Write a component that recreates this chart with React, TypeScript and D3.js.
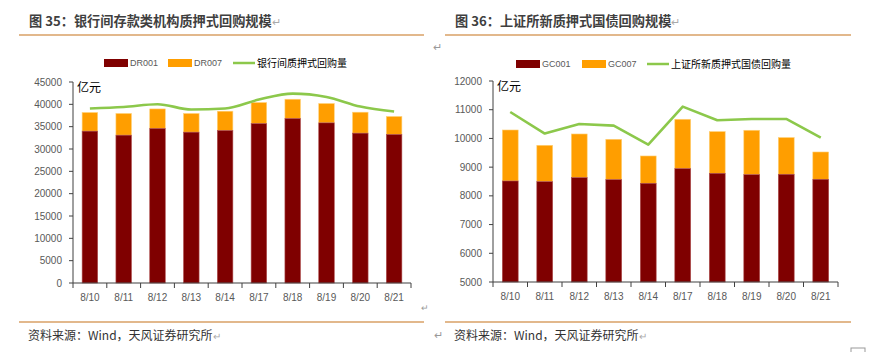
import React from "react";
import * as d3 from "d3";

const dates = ["8/10", "8/11", "8/12", "8/13", "8/14", "8/17", "8/18", "8/19", "8/20", "8/21"];

const dr001 = [34000, 33100, 34600, 33770, 34150, 35700, 36830, 35850, 33550, 33260];
const drTotal = [38170, 37950, 38970, 37950, 38460, 40400, 41140, 40180, 38240, 37280];
const drLine = [39060, 39400, 40020, 38840, 39060, 41070, 42400, 41650, 39500, 38390];

const gc001 = [8518, 8497, 8636, 8566, 8438, 8950, 8786, 8740, 8752, 8577];
const gcTotal = [10294, 9761, 10155, 9970, 9389, 10667, 10238, 10284, 10030, 9528];
const gcLine = [10920, 10170, 10503, 10445, 9785, 11109, 10632, 10678, 10678, 10030];

const leftTicks = [0, 5000, 10000, 15000, 20000, 25000, 30000, 35000, 40000, 45000];
const rightTicks = [5000, 6000, 7000, 8000, 9000, 10000, 11000, 12000];

const DARK = "#7F0000";
const ORANGE = "#FF9E00";
const GREEN = "#8CC84B";
const AXIS = "#404040";
const TICKTXT = "#595959";
const RULE = "#D9A066";

type PanelProps = {
  x0: number;
  x1: number;
  yTop: number;
  yBottom: number;
  domain: [number, number];
  ticks: number[];
  base: number[];
  total: number[];
  line: number[];
  smooth: boolean;
  legendNames: [string, string, string];
  legendX: [number, number, number];
  legendY: number;
};

function Panel(p: PanelProps) {
  const x = d3.scaleBand<string>().domain(dates).range([p.x0, p.x1]).paddingInner(0.54).paddingOuter(0.27);
  const y = d3.scaleLinear().domain(p.domain).range([p.yBottom, p.yTop]);
  const step = (p.x1 - p.x0) / dates.length;
  const lineGen = d3
    .line<number>()
    .x((_, i) => (x(dates[i]) as number) + x.bandwidth() / 2)
    .y((d) => y(d))
    .curve(p.smooth ? d3.curveMonotoneX : d3.curveLinear);
  const bw = x.bandwidth();
  return (
    <g>
      {dates.map((d, i) => (
        <g key={d}>
          <rect x={x(d)} y={y(p.total[i])} width={bw} height={y(p.base[i]) - y(p.total[i])} fill={ORANGE} stroke="#FFD27A" strokeWidth={0.6} />
          <rect x={x(d)} y={y(p.base[i])} width={bw} height={y(p.domain[0]) - y(p.base[i])} fill={DARK} stroke="#B05050" strokeWidth={0.6} />
        </g>
      ))}
      <path d={lineGen(p.line) || ""} fill="none" stroke={GREEN} strokeWidth={2.6} strokeLinejoin="round" />
      <line x1={p.x0} x2={p.x0} y1={p.yTop} y2={p.yBottom} stroke={AXIS} strokeWidth={1} />
      {p.ticks.map((t) => (
        <g key={t}>
          <line x1={p.x0 - 4} x2={p.x0} y1={y(t)} y2={y(t)} stroke={AXIS} />
          <text x={p.x0 - 11} y={y(t)} dy="0.35em" textAnchor="end" fontSize={10} fill={TICKTXT} fontFamily="Liberation Sans, Arial, sans-serif">
            {t}
          </text>
        </g>
      ))}
      <line x1={p.x0} x2={p.x1} y1={p.yBottom} y2={p.yBottom} stroke={AXIS} strokeWidth={1.2} />
      {d3.range(dates.length + 1).map((i) => (
        <line key={i} x1={p.x0 + i * step} x2={p.x0 + i * step} y1={p.yBottom} y2={p.yBottom + 5} stroke={AXIS} />
      ))}
      {dates.map((d) => (
        <text key={d} x={(x(d) as number) + bw / 2} y={p.yBottom + 14} dy="0.35em" textAnchor="middle" fontSize={10} fill={TICKTXT} fontFamily="Liberation Sans Narrow, Liberation Sans, Arial, sans-serif">
          {d}
        </text>
      ))}
      <text x={p.x0 + 4} y={p.yTop + 6} dy="0.35em" fontSize={12} fill="#000" fontFamily="Noto Sans CJK SC, sans-serif">
        亿元
      </text>
      <rect x={p.legendX[0]} y={p.legendY - 4} width={24} height={8} fill={DARK} />
      <text x={p.legendX[0] + 26} y={p.legendY} dy="0.35em" fontSize={9} fill={TICKTXT} fontFamily="Liberation Sans, Arial, sans-serif">
        {p.legendNames[0]}
      </text>
      <rect x={p.legendX[1]} y={p.legendY - 4} width={24} height={8} fill={ORANGE} />
      <text x={p.legendX[1] + 26} y={p.legendY} dy="0.35em" fontSize={9} fill={TICKTXT} fontFamily="Liberation Sans, Arial, sans-serif">
        {p.legendNames[1]}
      </text>
      <line x1={p.legendX[2]} x2={p.legendX[2] + 22} y1={p.legendY} y2={p.legendY} stroke={GREEN} strokeWidth={2.5} />
      <text x={p.legendX[2] + 24} y={p.legendY} dy="0.35em" fontSize={10} fill="#000" fontFamily="Noto Sans CJK SC, sans-serif">
        {p.legendNames[2]}
      </text>
    </g>
  );
}

export default function App() {
  const cjk = "Noto Sans CJK SC, sans-serif";
  return (
    <svg width={888} height={352} style={{ position: "absolute", left: 0, top: 0, background: "#fff" }}>
      <rect width={888} height={352} fill="#fff" />
      <text x={29} y={21} dy="0.35em" fontSize={13.2} fontWeight="bold" fill="#3F3F3F" fontFamily={cjk}>
        图 35：银行间存款类机构质押式回购规模<tspan fill="#AAA" fontWeight="normal" fontSize={11}>↵</tspan>
      </text>
      <text x={455} y={21} dy="0.35em" fontSize={13.2} fontWeight="bold" fill="#3F3F3F" fontFamily={cjk}>
        图 36：上证所新质押式国债回购规模<tspan fill="#AAA" fontWeight="normal" fontSize={11}>↵</tspan>
      </text>
      <line x1={19} x2={424} y1={35} y2={35} stroke={RULE} strokeWidth={1.3} />
      <line x1={445} x2={851} y1={35} y2={35} stroke={RULE} strokeWidth={1.3} />
      <text x={433} y={47} dy="0.35em" fontSize={11} fill="#999" fontFamily={cjk}>↵</text>

      <Panel
        x0={73}
        x1={411}
        yTop={82}
        yBottom={283}
        domain={[0, 45000]}
        ticks={leftTicks}
        base={dr001}
        total={drTotal}
        line={drLine}
        smooth={true}
        legendNames={["DR001", "DR007", "银行间质押式回购量"]}
        legendX={[104, 168, 233]}
        legendY={63}
      />
      <Panel
        x0={493}
        x1={838}
        yTop={81}
        yBottom={282}
        domain={[5000, 12000]}
        ticks={rightTicks}
        base={gc001}
        total={gcTotal}
        line={gcLine}
        smooth={false}
        legendNames={["GC001", "GC007", "上证所新质押式国债回购量"]}
        legendX={[516, 582, 647]}
        legendY={64}
      />

      <text x={421} y={308} dy="0.35em" fontSize={9} fill="#999" fontFamily={cjk}>↵</text>
      <line x1={19} x2={424} y1={322} y2={322} stroke={RULE} strokeWidth={1.3} />
      <line x1={445} x2={851} y1={322} y2={322} stroke={RULE} strokeWidth={1.3} />
      <text x={28} y={336} dy="0.35em" fontSize={12} fill="#333" fontFamily={cjk}>
        资料来源：Wind，天风证券研究所<tspan fill="#AAA" fontSize={10}>↵</tspan>
      </text>
      <text x={434} y={335} dy="0.35em" fontSize={11} fill="#999" fontFamily={cjk}>↵</text>
      <text x={454} y={336} dy="0.35em" fontSize={12} fill="#333" fontFamily={cjk}>
        资料来源：Wind，天风证券研究所<tspan fill="#AAA" fontSize={10}>↵</tspan>
      </text>
      <rect x={851} y={348} width={14} height={8} fill="none" stroke="#999" />
    </svg>
  );
}
